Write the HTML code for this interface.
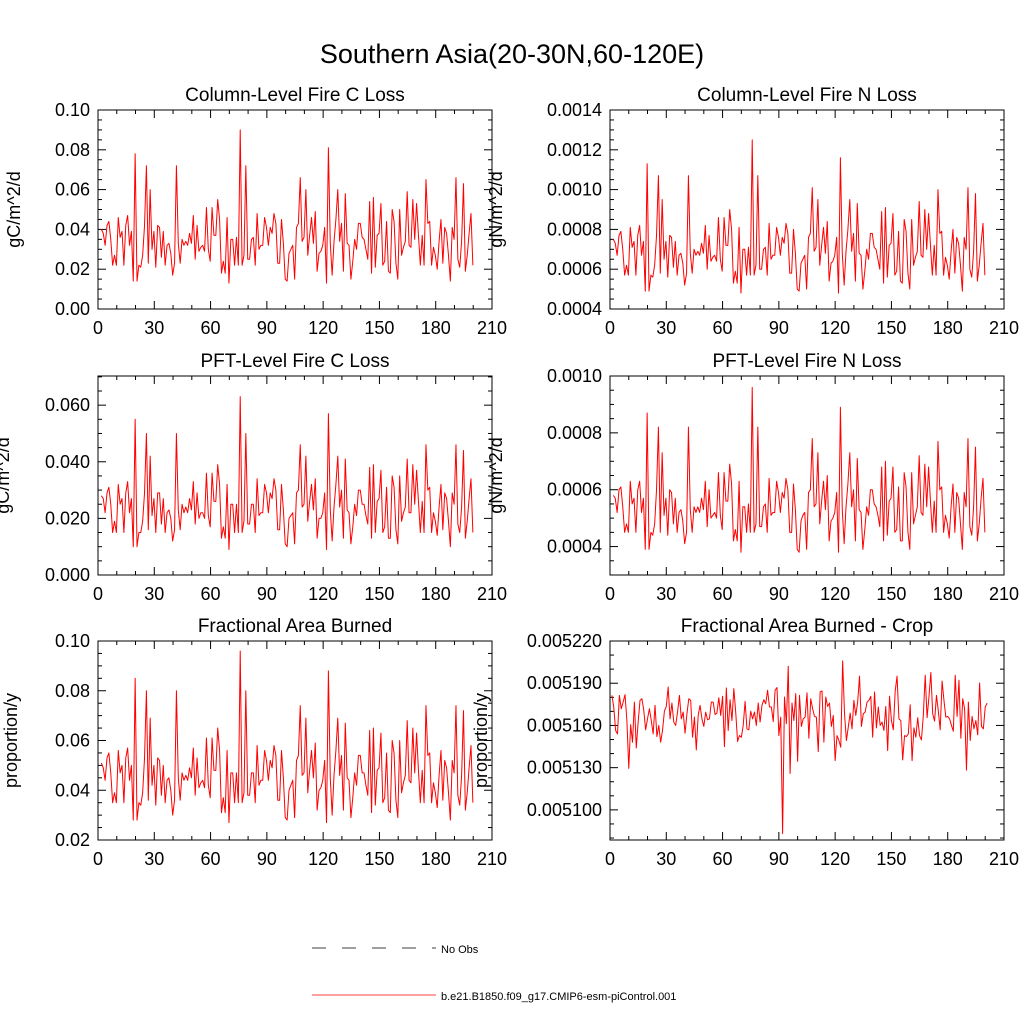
<!DOCTYPE html>
<html><head><meta charset="utf-8"><style>
html,body{margin:0;padding:0;background:#fff;}
svg{display:block;font-family:"Liberation Sans",sans-serif;}
</style></head><body>
<svg id="chart" width="1024" height="1024" viewBox="0 0 1024 1024" xmlns="http://www.w3.org/2000/svg">
<rect width="1024" height="1024" fill="#fff"/>
<text x="512" y="63" font-size="27" text-anchor="middle">Southern Asia(20-30N,60-120E)</text>
<g id="panels"></g>
<g>
<line x1="312" y1="948" x2="436" y2="948" stroke="#000" stroke-width="0.8" stroke-dasharray="14,16"/>
<text x="441" y="953" font-size="11">No Obs</text>
<line x1="312" y1="995" x2="436" y2="995" stroke="#f00" stroke-width="0.8"/>
<text x="441" y="1000" font-size="11">b.e21.B1850.f09_g17.CMIP6-esm-piControl.001</text>
</g>
</svg>
<script>
const xTicks = [0,30,60,90,120,150,180,210];
const colC = [40,38,32,42,44,35,22,27,22,46,36,39,22,42,47,32,39,14,78,14,22,21,27,42,72,23,60,30,39,21,42,41,26,39,22,32,33,28,17,23,72,33,23,35,32,34,32,38,33,47,25,42,29,31,32,29,51,30,24,51,37,37,55,45,18,24,18,46,13,35,35,22,36,22,90,22,27,72,25,25,35,36,22,48,30,32,32,46,41,32,41,38,48,43,23,23,45,33,15,14,28,30,32,15,41,43,66,34,36,60,27,37,46,33,49,19,28,29,32,41,13,81,33,17,34,45,60,34,43,19,58,33,32,15,24,35,30,43,43,36,35,30,25,54,18,56,21,37,38,53,22,24,44,19,18,50,44,23,15,50,27,31,34,59,32,31,55,35,53,37,22,37,22,65,43,44,22,31,27,20,34,45,23,41,38,27,14,41,35,66,25,21,34,63,19,27,38,48,22];
const colN = [75,73,67,77,79,70,57,62,57,81,71,74,57,77,82,67,74,49,113,49,57,56,62,77,107,58,95,65,74,56,77,76,61,74,57,67,68,63,52,58,107,68,58,70,67,69,67,73,68,82,60,77,64,66,67,64,86,65,59,86,72,72,90,80,53,59,53,81,48,70,70,57,71,57,125,57,62,107,60,60,70,71,57,83,65,67,67,81,76,67,76,73,83,78,58,58,80,68,50,49,63,65,67,50,76,78,101,69,71,95,62,72,81,68,84,54,63,64,67,76,48,116,68,52,69,80,95,69,78,54,93,68,67,50,59,70,65,78,78,71,70,65,60,89,53,91,56,72,73,88,57,59,79,54,53,85,79,58,50,85,62,66,69,94,67,66,90,70,88,72,57,72,57,100,78,79,57,66,62,55,69,80,58,76,73,62,49,76,70,101,60,56,69,98,54,62,73,83,57];
const pftC = [28,27,22,29,31,25,15,19,15,32,25,27,15,29,33,22,27,10,55,10,15,15,19,29,50,16,42,21,27,15,29,29,18,27,15,22,23,20,12,16,50,23,16,25,22,24,22,27,23,33,18,29,20,22,22,20,36,21,17,36,26,26,39,32,13,17,13,32,9,25,25,15,25,15,63,15,19,50,18,18,25,25,15,34,21,22,22,32,29,22,29,27,34,30,16,16,32,23,11,10,20,21,22,11,29,30,46,24,25,42,19,26,32,23,34,13,20,20,22,29,9,57,23,12,24,32,42,24,30,13,41,23,22,11,17,25,21,30,30,25,25,21,18,38,13,39,15,26,27,37,15,17,31,13,13,35,31,16,11,35,19,22,24,41,22,22,39,25,37,26,15,26,15,46,30,31,15,22,19,14,24,32,16,29,27,19,10,29,25,46,18,15,24,44,13,19,27,34,15];
const pftN = [58,57,52,60,61,54,45,48,45,63,55,57,45,60,63,52,57,39,87,39,45,44,48,60,82,45,73,51,57,44,60,59,48,57,45,52,53,49,41,45,82,53,45,54,52,54,52,57,53,63,47,60,50,51,52,50,66,51,46,66,56,56,69,62,42,46,42,63,38,54,54,45,55,45,96,45,48,82,47,47,54,55,45,64,51,52,52,63,59,52,59,57,64,60,45,45,62,53,39,38,49,51,52,39,59,60,78,54,55,73,48,56,63,53,65,42,49,50,52,59,38,89,53,41,54,62,73,54,60,42,71,53,52,39,46,54,51,60,60,55,54,51,47,68,42,70,44,56,57,68,45,46,61,42,42,66,61,45,39,66,48,51,54,72,52,51,69,54,68,56,45,56,45,77,60,61,45,51,48,43,54,62,45,59,57,48,39,59,54,78,47,44,54,75,42,48,57,64,45];
const areaB = [51,49,44,53,55,47,35,39,35,56,47,50,35,53,57,44,50,28,85,28,35,34,39,53,80,36,69,42,50,34,53,52,38,50,35,44,45,40,30,36,80,45,36,47,44,46,44,49,45,57,38,53,41,43,44,41,61,42,37,61,48,48,65,56,31,37,31,56,27,47,47,35,47,35,96,35,39,80,38,38,47,47,35,58,42,44,44,56,52,44,52,49,58,54,36,36,56,45,29,28,40,42,44,29,52,54,74,46,47,69,39,48,56,45,59,32,40,41,44,52,27,88,45,30,46,56,69,46,54,32,67,45,44,29,37,47,42,54,54,47,47,42,38,64,31,65,34,48,49,63,35,37,55,32,31,60,55,36,29,60,39,43,46,68,44,43,65,47,63,48,35,48,35,74,54,55,35,43,39,33,46,56,36,52,49,39,28,52,47,74,38,34,46,72,32,39,49,58,35];
const areaCrop = [51814,51731,51564,51540,51814,51719,51766,51819,51635,51295,51605,51481,51766,51440,51624,51778,51790,51707,51569,51647,51719,51635,51540,51743,51521,51600,51481,51564,51702,51735,51873,51647,51759,51624,51600,51695,51814,51647,51695,51545,51683,51790,51778,51516,51659,51426,51671,51743,51647,51593,51695,51640,51647,51766,51766,51678,51688,51797,51671,51807,51450,51866,51564,51783,51635,51862,51695,51486,51528,51516,51600,51771,51576,51569,51702,51647,51695,51600,51759,51624,51743,51783,51754,51850,51731,51731,51628,51850,51869,51528,51659,50831,51802,51612,52021,51259,51759,51635,51826,51345,51814,51593,51647,51659,51831,51509,51790,51719,51664,51659,51414,51838,51845,51481,51802,51735,51759,51593,51671,51350,51528,51493,51445,52059,51683,51493,51588,51688,51576,51778,51671,51766,51950,51593,51683,51695,51766,51778,51807,51516,51838,51583,51731,51600,51624,51564,51735,51421,51807,51635,51569,51843,51950,51647,51635,51355,51528,51521,51540,51747,51350,51583,51516,51655,51528,51497,51671,51957,51655,51802,51976,51683,51631,51814,51702,51569,51916,51778,51659,51664,51647,51600,51559,51957,51664,51921,51509,51790,51719,51283,51766,51493,51664,51576,51635,51533,51902,51593,51576,51731,51759];
const ticksColC = [0,0.02,0.04,0.06,0.08,0.10];
const labelsColC = ["0.00","0.02","0.04","0.06","0.08","0.10"];
const ticksColN = [0.0004,0.0006,0.0008,0.0010,0.0012,0.0014];
const labelsColN = ["0.0004","0.0006","0.0008","0.0010","0.0012","0.0014"];
const ticksPftC = [0,0.02,0.04,0.06];
const labelsPftC = ["0.000","0.020","0.040","0.060"];
const ticksPftN = [0.0004,0.0006,0.0008,0.0010];
const labelsPftN = ["0.0004","0.0006","0.0008","0.0010"];
const ticksArea = [0.02,0.04,0.06,0.08,0.10];
const labelsArea = ["0.02","0.04","0.06","0.08","0.10"];
const ticksCrop = [0.00510,0.00513,0.00516,0.00519,0.00522];
const labelsCrop = ["0.005100","0.005130","0.005160","0.005190","0.005220"];

const NS = "http://www.w3.org/2000/svg";
const root = document.getElementById('panels');
function mk(tag, attrs, parent){
  const e = document.createElementNS(NS, tag);
  for (const k in attrs) e.setAttribute(k, attrs[k]);
  parent.appendChild(e);
  return e;
}
function panel(cfg){
  const g = mk('g', {}, root);
  
  
  const L=cfg.x, T=cfg.y, W=394, H=199;
  const xs = v => L + v/210*W;
  const ys = v => T + H - (v-cfg.ymin)/(cfg.ymax-cfg.ymin)*H;
  const box = mk('rect', {x:L,y:T,width:W,height:H,fill:'none',stroke:'#000','stroke-width':1}, g);
  
  
  const t = mk('text', {x:L+W/2, y:T-9, 'font-size':19, 'text-anchor':'middle'}, g);
  t.textContent = cfg.title;
  
  
  for (let v=0; v<=210; v+=10){
    const px = xs(v), major = (v%30===0), len = major?8:4;
    mk('line',{x1:px,y1:T+H,x2:px,y2:T+H-len,stroke:'#000','stroke-width':1},g);
    mk('line',{x1:px,y1:T,x2:px,y2:T+len,stroke:'#000','stroke-width':1},g);
  }
  xTicks.forEach(v=>{
    const tl = mk('text',{x:xs(v),y:T+H+25,'font-size':18,'text-anchor':'middle'},g);
    tl.textContent = String(v);
    
    
  });
  const step = cfg.ticks[1]-cfg.ticks[0];
  const minor = step/cfg.nminor;
  for (let v=cfg.ticks[0]-step; v<=cfg.ymax+1e-12; v+=minor){
    if (v < cfg.ymin-1e-12) continue;
    const py = ys(v);
    const k = Math.round((v-cfg.ticks[0])/minor);
    const major = (k % cfg.nminor === 0), len = major?8:4;
    mk('line',{x1:L,y1:py,x2:L+len,y2:py,stroke:'#000','stroke-width':1},g);
    mk('line',{x1:L+W,y1:py,x2:L+W-len,y2:py,stroke:'#000','stroke-width':1},g);
  }
  cfg.ticks.forEach((v,i)=>{
    const tl = mk('text',{x:L-8,y:ys(v)+6,'font-size':18,'text-anchor':'end'},g);
    tl.textContent = cfg.labels[i];
    
    
  });
  const yl = mk('text',{x:0,y:0,'font-size':18,'text-anchor':'middle',transform:`translate(${L-cfg.ylabOff},${T+H/2}) rotate(-90)`},g);
  yl.textContent = cfg.ylabel;
  
  
  const pts = cfg.data.map((d,i)=> xs(i+cfg.x0).toFixed(2)+','+ys(d*cfg.scale).toFixed(2)).join(' ');
  const line = mk('polyline',{points:pts,fill:'none',stroke:'#f00','stroke-width':1,'stroke-linejoin':'round'},g);
  
  
}
panel({name:'panel-column-fire-c-loss',x:98,y:110,title:'Column-Level Fire C Loss',ymin:0,ymax:0.10,ticks:ticksColC,labels:labelsColC,nminor:4,ylabel:'gC/m^2/d',ylabOff:78,data:colC,scale:0.001,x0:1.8});
panel({name:'panel-column-fire-n-loss',x:610,y:110,title:'Column-Level Fire N Loss',ymin:0.0004,ymax:0.0014,ticks:ticksColN,labels:labelsColN,nminor:4,ylabel:'gN/m^2/d',ylabOff:108,data:colN,scale:0.00001,x0:1.8});
panel({name:'panel-pft-fire-c-loss',x:98,y:376,title:'PFT-Level Fire C Loss',ymin:0,ymax:0.0703,ticks:ticksPftC,labels:labelsPftC,nminor:4,ylabel:'gC/m^2/d',ylabOff:89,data:pftC,scale:0.001,x0:1.8});
panel({name:'panel-pft-fire-n-loss',x:610,y:376,title:'PFT-Level Fire N Loss',ymin:0.0003,ymax:0.001,ticks:ticksPftN,labels:labelsPftN,nminor:4,ylabel:'gN/m^2/d',ylabOff:108,data:pftN,scale:0.00001,x0:1.8});
panel({name:'panel-fractional-area-burned',x:98,y:641,title:'Fractional Area Burned',ymin:0.02,ymax:0.10,ticks:ticksArea,labels:labelsArea,nminor:4,ylabel:'proportion/y',ylabOff:81,data:areaB,scale:0.001,x0:1.8});
panel({name:'panel-fractional-area-burned-crop',x:610,y:641,title:'Fractional Area Burned - Crop',ymin:0.0050786,ymax:0.00522,ticks:ticksCrop,labels:labelsCrop,nminor:3,ylabel:'proportion/y',ylabOff:123,data:areaCrop,scale:0.0000001,x0:1});
</script>
</body></html>
